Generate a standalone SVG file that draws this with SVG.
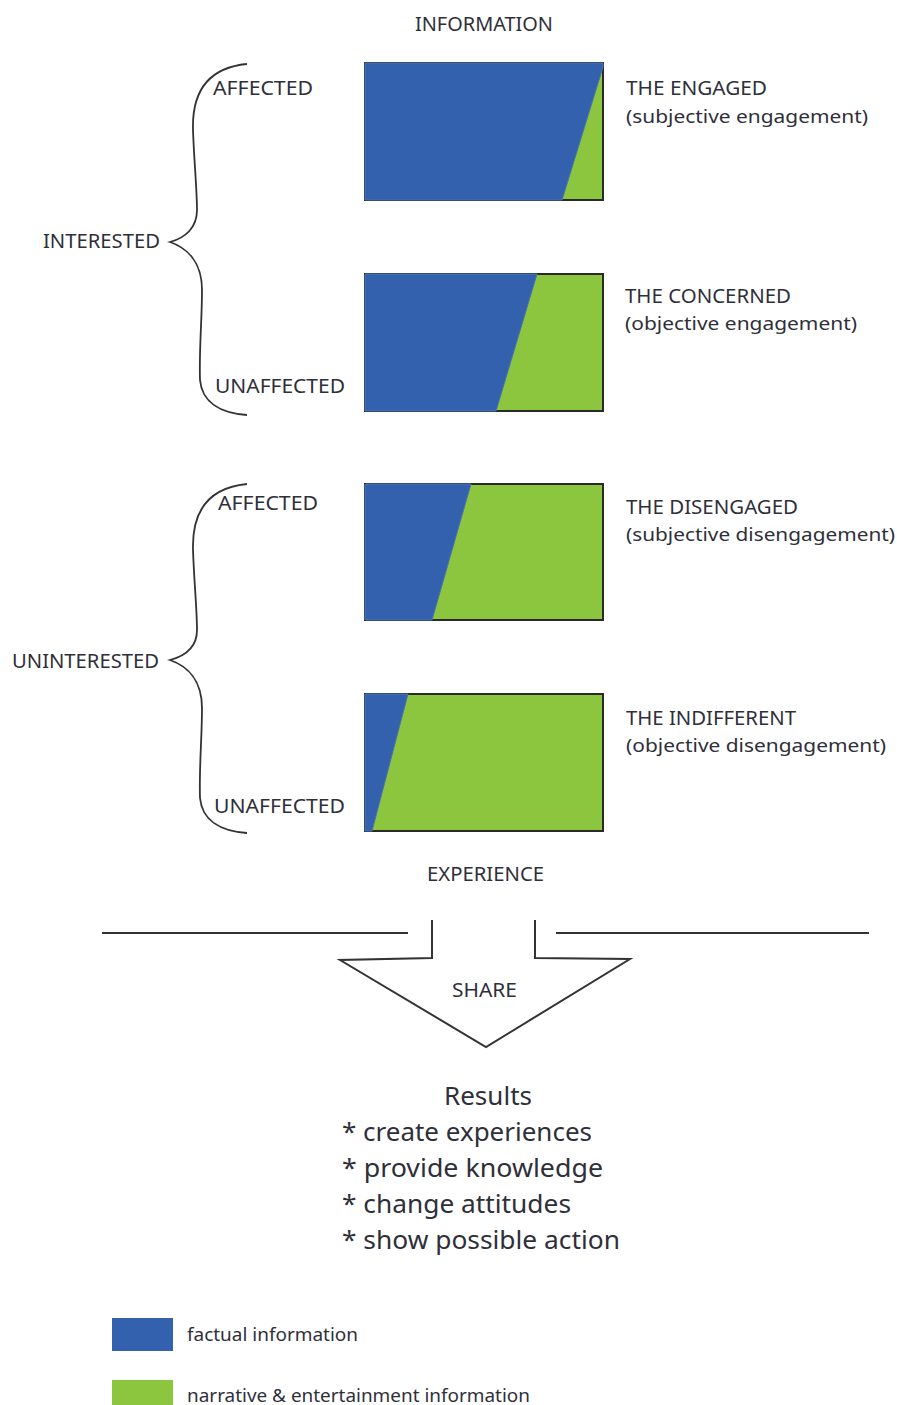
<svg xmlns="http://www.w3.org/2000/svg" width="897" height="1405" viewBox="0 0 897 1405">
<defs>
<style>
.t{font-family:"Noto Sans","Liberation Sans",sans-serif;fill:#2f2f3a;}
.cap{font-size:19px;}
.sub{font-size:18px;}
.res{font-size:25px;}
.leg{font-size:18px;}
.frame{fill:#8cc63f;stroke:#2a2a2a;stroke-width:2;}
.blue{fill:#3461ad;stroke:#4a72b4;stroke-width:1;}
.line{fill:none;stroke:#333;stroke-width:2;}
.brace{fill:none;stroke:#333;stroke-width:1.8;}
</style>
</defs>
<rect width="897" height="1405" fill="#fff"/>

<g id="top-label">
<text class="t cap" x="415" y="31" textLength="138" lengthAdjust="spacingAndGlyphs">INFORMATION</text>
</g>

<g id="interested">
<text class="t cap" x="43" y="248" textLength="117" lengthAdjust="spacingAndGlyphs">INTERESTED</text>
<text class="t cap" x="213" y="95" textLength="100" lengthAdjust="spacingAndGlyphs">AFFECTED</text>
<text class="t cap" x="215" y="393" textLength="130" lengthAdjust="spacingAndGlyphs">UNAFFECTED</text>
</g>

<g id="uninterested">
<text class="t cap" x="12" y="668" textLength="147" lengthAdjust="spacingAndGlyphs">UNINTERESTED</text>
<text class="t cap" x="218" y="510" textLength="100" lengthAdjust="spacingAndGlyphs">AFFECTED</text>
<text class="t cap" x="214" y="813" textLength="131" lengthAdjust="spacingAndGlyphs">UNAFFECTED</text>
</g>

<g id="engaged">
<rect class="frame" x="365" y="63" width="238" height="137"/>
<polygon class="blue" points="365,63 603,63 603,67 562,200 365,200"/>
<text class="t cap" x="626" y="95" textLength="141" lengthAdjust="spacingAndGlyphs">THE ENGAGED</text>
<text class="t sub" x="626" y="123" textLength="242" lengthAdjust="spacingAndGlyphs">(subjective engagement)</text>
</g>

<g id="concerned">
<rect class="frame" x="365" y="274" width="238" height="137"/>
<polygon class="blue" points="365,274 537,274 496,411 365,411"/>
<text class="t cap" x="625" y="303" textLength="166" lengthAdjust="spacingAndGlyphs">THE CONCERNED</text>
<text class="t sub" x="625" y="330" textLength="232" lengthAdjust="spacingAndGlyphs">(objective engagement)</text>
</g>

<g id="disengaged">
<rect class="frame" x="365" y="484" width="238" height="136"/>
<polygon class="blue" points="365,484 471,484 432,620 365,620"/>
<text class="t cap" x="626" y="514" textLength="172" lengthAdjust="spacingAndGlyphs">THE DISENGAGED</text>
<text class="t sub" x="626" y="541" textLength="269" lengthAdjust="spacingAndGlyphs">(subjective disengagement)</text>
</g>

<g id="indifferent">
<rect class="frame" x="365" y="694" width="238" height="137"/>
<polygon class="blue" points="365,694 408,694 372,831 365,831"/>
<text class="t cap" x="626" y="725" textLength="170" lengthAdjust="spacingAndGlyphs">THE INDIFFERENT</text>
<text class="t sub" x="626" y="752" textLength="260" lengthAdjust="spacingAndGlyphs">(objective disengagement)</text>
</g>

<g id="bottom-label">
<text class="t cap" x="427" y="881" textLength="117" lengthAdjust="spacingAndGlyphs">EXPERIENCE</text>
</g>

<g id="connectors">
<path class="brace" d="M247,64 C205,68 192,95 193,130 C194,160 197,190 197,210 C197,228 185,238 170,242 C187,248 202,262 202,290 C202,320 199,350 200,380 C202,402 220,413 247,415"/>
<path class="brace" d="M247,484 C205,488 192,515 193,550 C194,580 197,610 197,630 C197,648 185,656 170,660 C187,666 202,680 202,708 C202,738 199,768 200,798 C202,820 220,831 247,833"/>
<line class="line" x1="102" y1="933" x2="408" y2="933"/>
<line class="line" x1="556" y1="933" x2="869" y2="933"/>
<path class="line" d="M432,920 L432,958 L340,960 L486,1047 L630,959 L535,958 L535,920"/>
</g>

<g id="share">
<text class="t cap" x="452" y="997" textLength="65" lengthAdjust="spacingAndGlyphs">SHARE</text>
</g>

<g id="results">
<text class="t res" x="444" y="1105" textLength="88" lengthAdjust="spacingAndGlyphs">Results</text>
<text class="t res" x="342" y="1141" textLength="250" lengthAdjust="spacingAndGlyphs">* create experiences</text>
<text class="t res" x="342" y="1177" textLength="261" lengthAdjust="spacingAndGlyphs">* provide knowledge</text>
<text class="t res" x="342" y="1213" textLength="229" lengthAdjust="spacingAndGlyphs">* change attitudes</text>
<text class="t res" x="342" y="1249" textLength="278" lengthAdjust="spacingAndGlyphs">* show possible action</text>
</g>

<g id="legend-factual">
<rect x="112" y="1318" width="61" height="33" fill="#3461ad"/>
<text class="t leg" x="187" y="1341" textLength="171" lengthAdjust="spacingAndGlyphs">factual information</text>
</g>

<g id="legend-narrative">
<rect x="112" y="1380" width="61" height="30" fill="#8cc63f"/>
<text class="t leg" x="187" y="1402" textLength="343" lengthAdjust="spacingAndGlyphs">narrative &amp; entertainment information</text>
</g>
</svg>
